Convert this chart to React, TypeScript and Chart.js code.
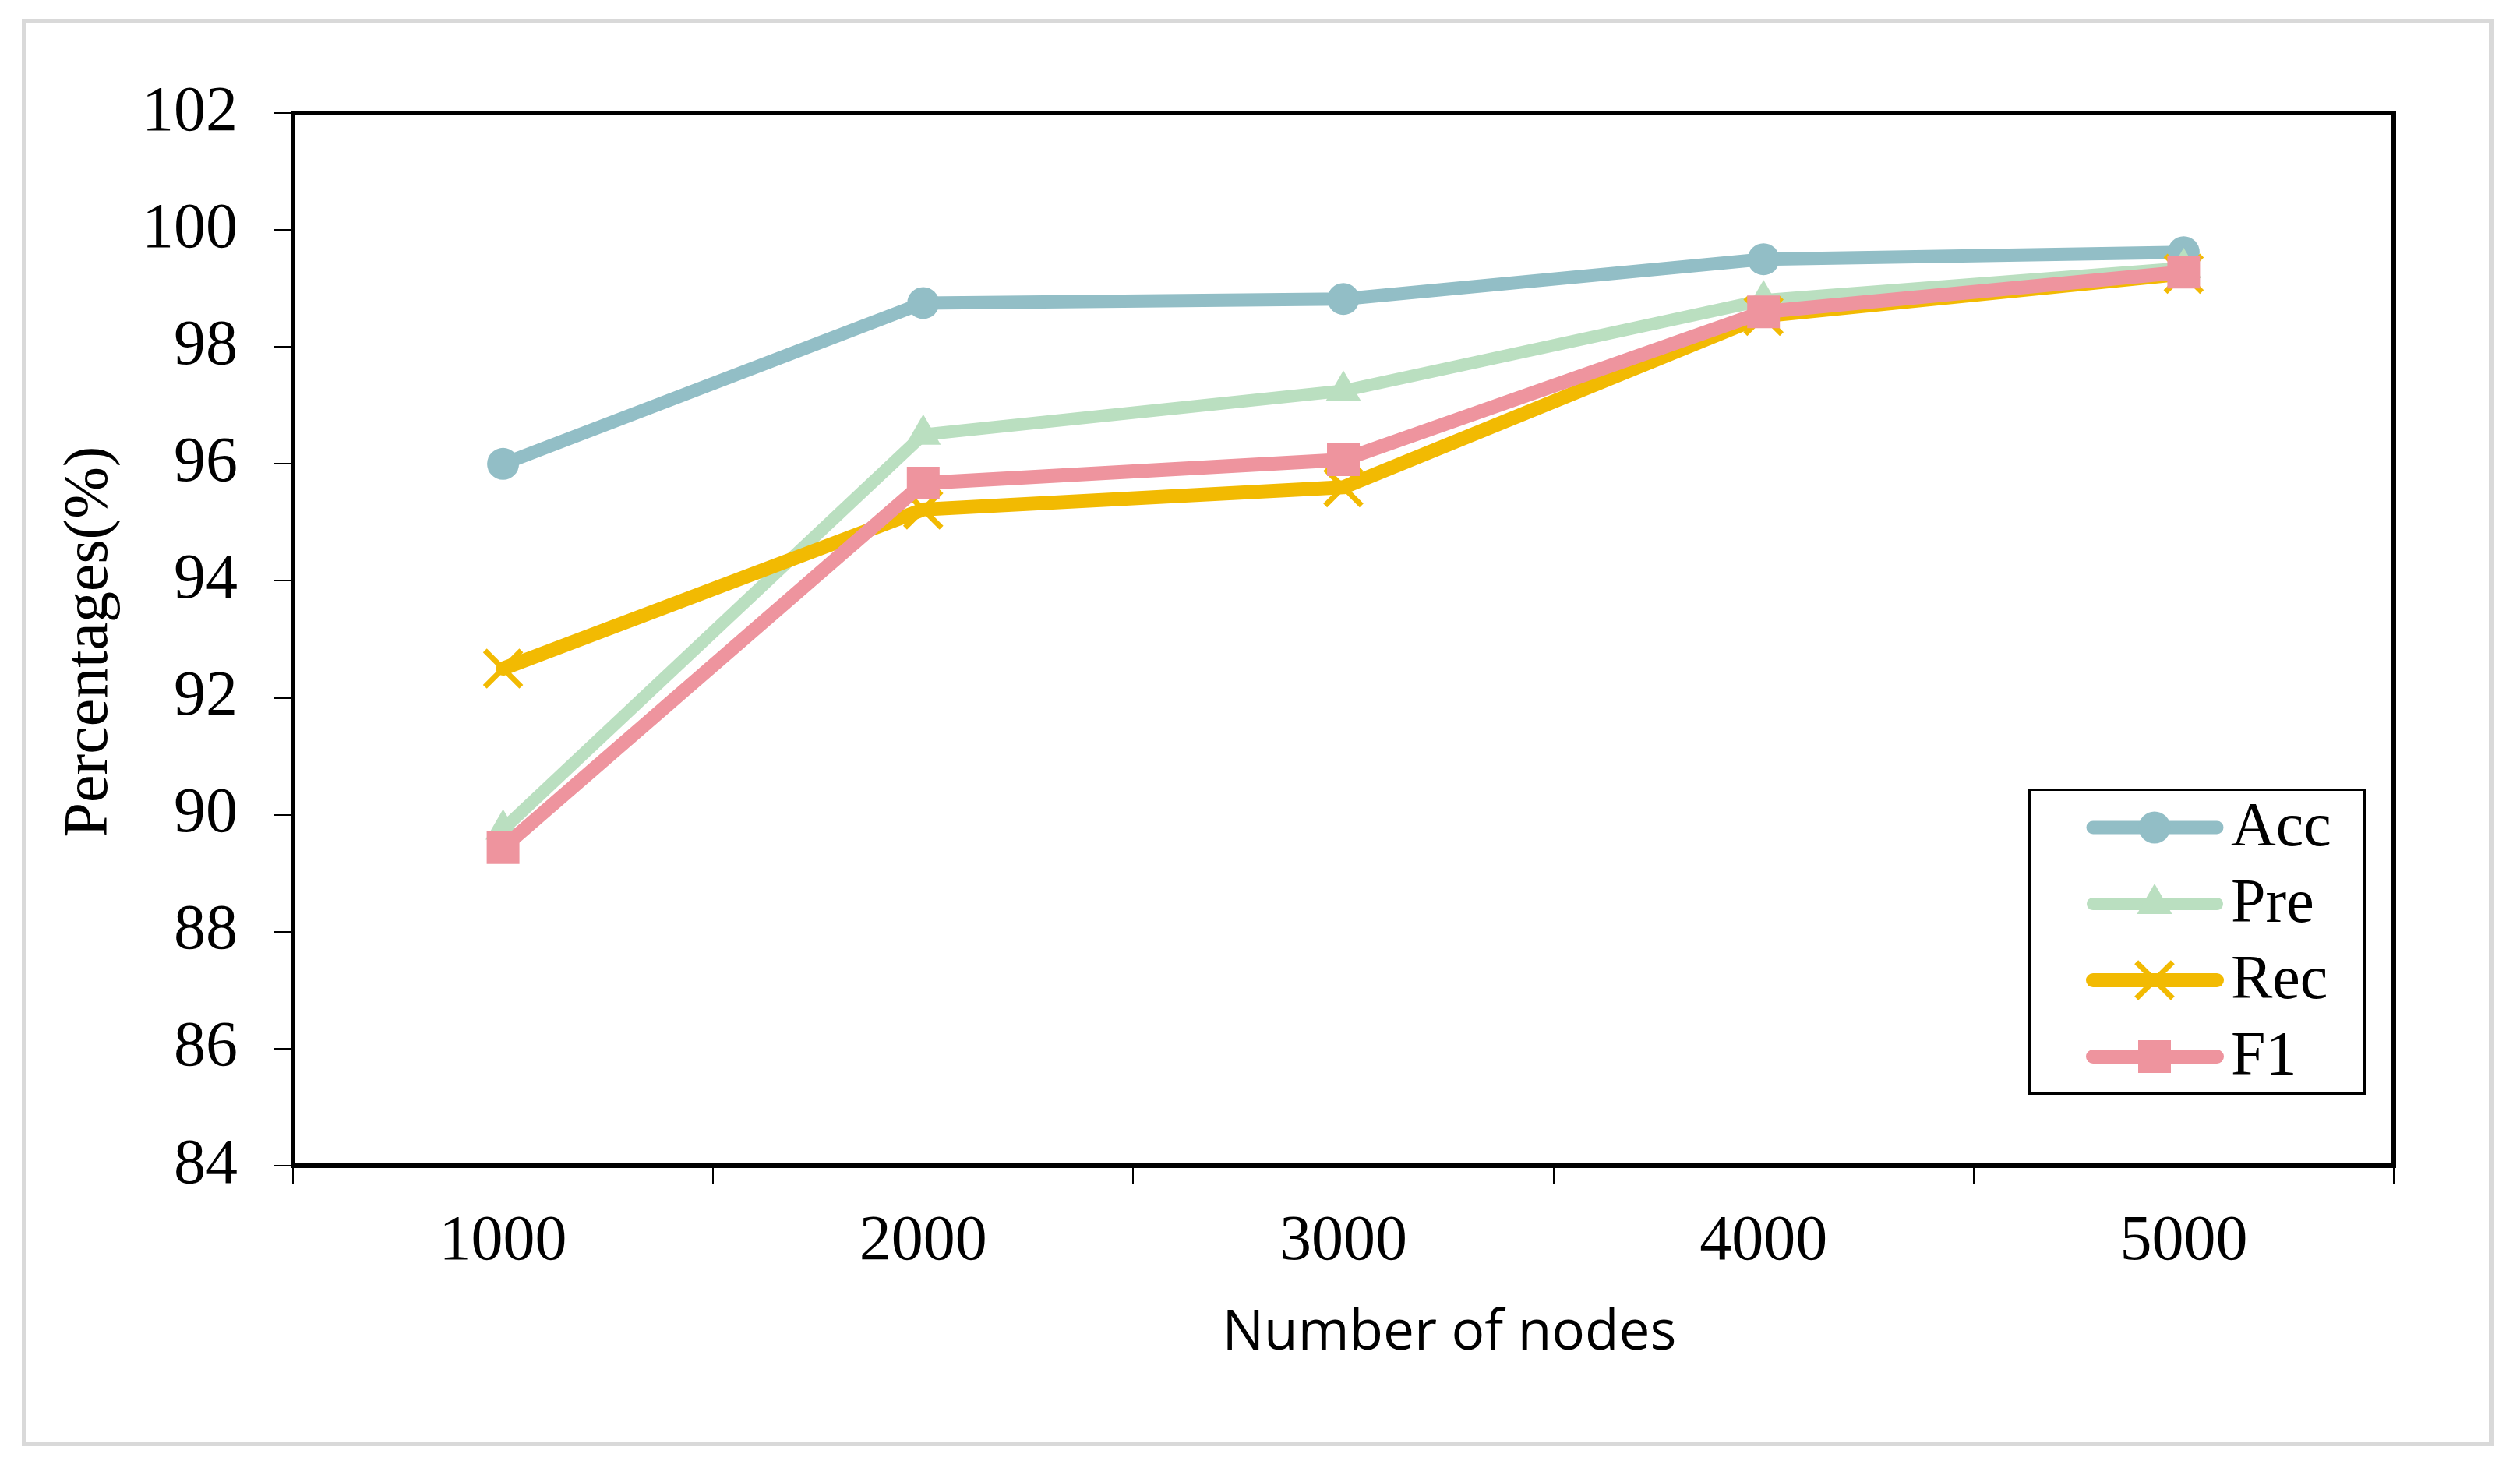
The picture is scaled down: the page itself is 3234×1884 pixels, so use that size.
import React, { useEffect, useRef } from 'react';
import { Chart, registerables } from 'chart.js';
import { drawPoint } from 'chart.js/helpers';

Chart.register(...registerables);

// ---- data ----
const categories = ['1000', '2000', '3000', '4000', '5000'];
const accValues = [96.0, 98.75, 98.82, 99.5, 99.62];
const preValues = [89.75, 96.5, 97.25, 98.8, 99.35];
const recValues = [92.5, 95.22, 95.6, 98.53, 99.25];
const f1Values = [89.44, 95.67, 96.07, 98.6, 99.28];
const seriesNames = ['Acc', 'Pre', 'Rec', 'F1'];
const yMin = 84;
const yMax = 102;
const yStep = 2;
const xTitle = 'Number of nodes';
const yTitle = 'Percentages(%)';

// ---- layout ----
const W = 3234;
const H = 1884;
const AREA_LEFT = 376;
const AREA_TOP = 145;
const AREA_RIGHT = 3072;
const AREA_BOTTOM = 1496;
const SERIF = '"Liberation Serif", "Times New Roman", serif';

const decorPlugin = {
  id: 'decor',
  beforeDraw(chart: any) {
    const ctx = chart.ctx;
    ctx.save();
    ctx.fillStyle = '#ffffff';
    ctx.fillRect(0, 0, W, H);
    ctx.strokeStyle = '#d9d9d9';
    ctx.lineWidth = 6;
    ctx.strokeRect(31, 27, 3166, 1826);
    ctx.restore();
  },
  beforeDatasetsDraw(chart: any) {
    const ctx = chart.ctx;
    const a = chart.chartArea;
    ctx.save();
    ctx.strokeStyle = '#000';
    ctx.lineWidth = 6;
    ctx.strokeRect(a.left, a.top, a.right - a.left, a.bottom - a.top);
    ctx.restore();
  },
  afterDraw(chart: any) {
    const ctx = chart.ctx;
    const a = chart.chartArea;
    ctx.save();
    // x title
    let fs = 72;
    ctx.font = `${fs}px "Open Sans", "Noto Sans", sans-serif`;
    const wMeasured = ctx.measureText(xTitle).width;
    fs = fs * 583 / wMeasured;
    ctx.font = `${fs}px "Open Sans", "Noto Sans", sans-serif`;
    ctx.fillStyle = '#000';
    ctx.textAlign = 'center';
    ctx.textBaseline = 'alphabetic';
    ctx.fillText(xTitle, (a.left + a.right) / 2 + 136, 1732);

    // y title
    ctx.save();
    ctx.translate(137, (a.top + a.bottom) / 2 + 3);
    ctx.rotate(-Math.PI / 2);
    ctx.font = `80px ${SERIF}`;
    ctx.textAlign = 'center';
    ctx.textBaseline = 'alphabetic';
    ctx.fillText(yTitle, 0, 0);
    ctx.restore();

    // legend
    const bx = 2604.5, by = 1013.5, bw = 430, bh = 390;
    ctx.fillStyle = '#fff';
    ctx.fillRect(bx, by, bw, bh);
    ctx.strokeStyle = '#000';
    ctx.lineWidth = 3;
    ctx.strokeRect(bx, by, bw, bh);
    chart.data.datasets.forEach((ds: any, i: number) => {
      const cy = 1062 + i * 98;
      ctx.beginPath();
      ctx.lineCap = 'round';
      ctx.lineWidth = ds.borderWidth;
      ctx.strokeStyle = ds.borderColor;
      ctx.moveTo(2686, cy);
      ctx.lineTo(2845, cy);
      ctx.stroke();
      ctx.lineCap = 'butt';
      ctx.fillStyle = ds.pointBackgroundColor;
      ctx.strokeStyle = ds.pointBorderColor;
      ctx.lineWidth = ds.pointBorderWidth;
      drawPoint(ctx, {
        pointStyle: ds.pointStyle,
        rotation: 0,
        radius: ds.pointRadius,
        borderWidth: ds.pointBorderWidth,
      } as any, 2765, cy);
      ctx.fillStyle = '#000';
      ctx.font = `80px ${SERIF}`;
      ctx.textAlign = 'left';
      ctx.textBaseline = 'alphabetic';
      ctx.fillText(ds.label, 2863, cy + 23);
    });
    ctx.restore();
  },
};

export default function App() {
  const ref = useRef<HTMLCanvasElement | null>(null);
  useEffect(() => {
    if (!ref.current) return;
    const colors = ['#92bec6', '#badfc0', '#f2ba02', '#ee949e'];
    const values = [accValues, preValues, recValues, f1Values];
    const styles = ['circle', 'triangle', 'crossRot', 'rect'];
    const radii = [20.5, 26, 33, 29.7];
    const widths = [17, 16, 18, 18];
    const pbw = [0, 0, 7, 0];
    const datasets = seriesNames.map((name, i) => ({
      label: name,
      data: values[i],
      borderColor: colors[i],
      backgroundColor: colors[i],
      borderWidth: widths[i],
      pointStyle: styles[i],
      pointRadius: radii[i],
      pointHoverRadius: radii[i],
      pointBackgroundColor: colors[i],
      pointBorderColor: colors[i],
      pointBorderWidth: pbw[i],
      borderJoinStyle: 'round',
      borderCapStyle: 'round',
      tension: 0,
      fill: false,
      order: seriesNames.length - i,
    }));
    const chart = new Chart(ref.current, {
      type: 'line',
      data: { labels: categories, datasets: datasets as any },
      options: {
        animation: false,
        responsive: false,
        devicePixelRatio: 1,
        layout: { padding: { left: 0, top: AREA_TOP, right: W - AREA_RIGHT, bottom: 0 } },
        plugins: {
          legend: { display: false },
          tooltip: { enabled: false },
          title: { display: false },
        },
        scales: {
          x: {
            type: 'category',
            offset: true,
            grid: {
              display: true,
              drawOnChartArea: false,
              drawTicks: true,
              tickLength: 24,
              color: '#000',
              lineWidth: 2,
              offset: true,
            },
            border: { display: false },
            ticks: {
              color: '#000',
              font: { family: SERIF, size: 82 },
              padding: 25,
              maxRotation: 0,
              minRotation: 0,
              autoSkip: false,
            },
            afterFit: (s: any) => { s.height = H - AREA_BOTTOM; },
          },
          y: {
            min: yMin,
            max: yMax,
            grid: {
              display: true,
              drawOnChartArea: false,
              drawTicks: true,
              tickLength: 25,
              color: '#000',
              lineWidth: 2,
            },
            border: { display: false },
            ticks: {
              stepSize: yStep,
              color: '#000',
              font: { family: SERIF, size: 82 },
              padding: 46,
            },
            afterFit: (s: any) => { s.width = AREA_LEFT; },
          },
        },
      } as any,
      plugins: [decorPlugin],
    });
    return () => chart.destroy();
  }, []);
  return (
    <div style={{ position: 'fixed', left: 0, top: 0, width: W, height: H, background: '#fff' }}>
      <canvas ref={ref} width={W} height={H} style={{ display: 'block', width: W, height: H }} />
    </div>
  );
}
